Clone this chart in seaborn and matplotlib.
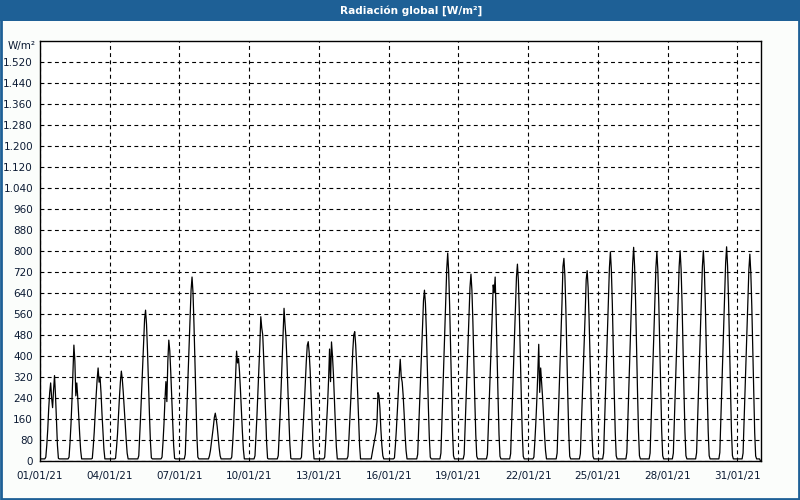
import numpy as np
import pandas as pd
import matplotlib
matplotlib.use("Agg")
import matplotlib.pyplot as plt
import matplotlib.dates as mdates
from matplotlib.ticker import FuncFormatter, FixedLocator
from matplotlib.patches import Rectangle
import seaborn as sns

# ---------------- data (W/m², hourly values for hours 06..19 of each day) -------------
night_value = 8
day_hours = list(range(6, 20))

d01 = [15, 60, 120, 200, 260, 297, 240, 203, 270, 325, 250, 150, 60, 10]
d02 = [15, 70, 140, 230, 339, 441, 380, 248, 297, 240, 170, 100, 40, 8]
d03 = [10, 55, 110, 180, 250, 310, 354, 300, 320, 260, 180, 110, 45, 8]
d04 = [10, 50, 100, 170, 240, 300, 342, 310, 260, 200, 140, 80, 30, 8]
d05 = [20, 100, 180, 270, 360, 450, 540, 574, 520, 420, 300, 180, 75, 12]
d06 = [15, 70, 140, 230, 302, 226, 380, 460, 420, 340, 240, 150, 60, 10]
d07 = [25, 130, 230, 330, 440, 550, 650, 700, 640, 520, 380, 230, 95, 15]
d08 = [8, 20, 40, 70, 100, 130, 165, 182, 160, 130, 90, 50, 20, 8]
d09 = [15, 70, 140, 230, 320, 418, 373, 390, 340, 270, 190, 110, 45, 8]
d10 = [20, 95, 170, 260, 350, 440, 549, 506, 480, 390, 280, 170, 70, 10]
d11 = [20, 100, 180, 280, 380, 480, 581, 521, 470, 380, 270, 160, 65, 10]
d12 = [15, 80, 150, 220, 300, 380, 440, 454, 410, 340, 240, 140, 55, 8]
d13 = [15, 75, 145, 220, 310, 426, 302, 453, 400, 330, 230, 140, 55, 8]
d14 = [18, 85, 160, 240, 330, 420, 480, 492, 440, 360, 260, 150, 60, 8]
d15 = [8, 30, 50, 70, 90, 110, 150, 260, 250, 200, 120, 60, 20, 8]
d16 = [12, 60, 120, 190, 260, 330, 387, 321, 300, 250, 180, 100, 40, 8]
d17 = [25, 120, 210, 310, 410, 510, 610, 650, 600, 490, 350, 210, 90, 15]
d18 = [30, 145, 255, 375, 495, 615, 730, 791, 720, 590, 425, 255, 110, 20]
d19 = [25, 130, 230, 340, 450, 560, 660, 711, 650, 530, 380, 230, 100, 18]
d20 = [25, 130, 230, 340, 450, 560, 670, 640, 700, 560, 400, 240, 100, 18]
d21 = [28, 140, 245, 355, 470, 580, 700, 749, 685, 560, 400, 245, 105, 18]
d22 = [15, 75, 145, 230, 330, 444, 261, 354, 300, 240, 170, 100, 40, 8]
d23 = [30, 145, 250, 365, 480, 600, 740, 771, 705, 580, 415, 250, 105, 18]
d24 = [28, 135, 235, 345, 455, 565, 690, 724, 660, 540, 390, 235, 100, 18]
d25 = [30, 150, 260, 378, 498, 617, 736, 796, 726, 597, 428, 258, 110, 20]
d26 = [32, 153, 265, 386, 508, 630, 752, 813, 740, 610, 437, 264, 113, 20]
d27 = [30, 150, 258, 378, 497, 616, 737, 796, 725, 598, 430, 259, 111, 20]
d28 = [30, 150, 260, 380, 500, 620, 740, 800, 730, 600, 430, 260, 110, 20]
d29 = [31, 151, 261, 381, 501, 619, 741, 800, 731, 601, 431, 261, 111, 20]
d30 = [32, 153, 265, 387, 509, 632, 754, 815, 742, 612, 440, 265, 114, 21]
d31 = [30, 148, 256, 374, 492, 610, 728, 787, 716, 590, 425, 256, 108, 19]

days = [d01, d02, d03, d04, d05, d06, d07, d08, d09, d10, d11, d12, d13, d14, d15, d16,
        d17, d18, d19, d20, d21, d22, d23, d24, d25, d26, d27, d28, d29, d30, d31]

y_ticks = list(range(0, 1521, 80))
x_tick_days = ["2021-01-01", "2021-01-04", "2021-01-07", "2021-01-10", "2021-01-13",
               "2021-01-16", "2021-01-19", "2021-01-22", "2021-01-25", "2021-01-28",
               "2021-01-31"]
title_text = "Radiación global [W/m²]"
unit_text = "W/m²"

# ---------------- build series ----------------
times, values = [], []
start = pd.Timestamp("2021-01-01 00:00")
for i, dvals in enumerate(days):
    for h in range(24):
        times.append(start + pd.Timedelta(days=i, hours=h))
        if h in day_hours:
            values.append(dvals[day_hours.index(h)])
        else:
            values.append(night_value)
times.append(pd.Timestamp("2021-02-01 00:00"))
values.append(0)
df = pd.DataFrame({"time": times, "value": values})

# ---------------- figure ----------------
sns.set_style("white")
plt.rcParams["font.family"] = ["DejaVu Sans"]

text_color = "#0b1a33"
fig = plt.figure(figsize=(8, 5), dpi=100, facecolor="#fbfdfb")
ax = fig.add_axes([40 / 800, 39 / 500, 720.5 / 800, 420.5 / 500])
ax.set_facecolor("white")

sns.lineplot(data=df, x="time", y="value", color="black", linewidth=0.9, ax=ax)

ax.set_xlim(pd.Timestamp("2021-01-01"), pd.Timestamp("2021-02-01"))
ax.set_ylim(0, 1600)
ax.set_yticks(y_ticks)
ax.yaxis.set_major_formatter(FuncFormatter(lambda v, p: f"{int(v):,}".replace(",", ".")))

ax.xaxis.set_major_locator(FixedLocator(mdates.date2num(pd.to_datetime(x_tick_days))))
ax.xaxis.set_minor_locator(mdates.DayLocator())
ax.xaxis.set_major_formatter(mdates.DateFormatter("%d/%m/%y"))

ax.set_xlabel("")
ax.set_ylabel("")
ax.grid(True, which="major", color="black", linestyle=(0, (3.5, 3)), linewidth=0.8)
for s in ax.spines.values():
    s.set_visible(True)
    s.set_color("black")
    s.set_linewidth(1.0)

ax.tick_params(axis="both", which="major", direction="out", width=1,
               color="black", labelcolor=text_color, labelsize=7.5)
ax.tick_params(axis="x", which="minor", direction="out", length=3, width=1, color="black")
ax.tick_params(axis="x", which="major", length=4, pad=3)
ax.tick_params(axis="y", which="major", length=3, pad=2)

# title bar
fig.patches.append(Rectangle((0, 1 - 20.7 / 500), 1, 20.7 / 500, transform=fig.transFigure,
                             facecolor="#1e6096", edgecolor="none", zorder=0))
fig.text(411 / 800, 1 - 10.5 / 500, title_text, ha="center", va="center", color="white",
         fontsize=7.6, fontweight="bold")
# outer border
fig.patches.append(Rectangle((0.001, 0.002), 0.998, 0.996, transform=fig.transFigure,
                             facecolor="none", edgecolor="#1e6096", linewidth=2, zorder=5))
fig.text(22 / 800, 1 - 46 / 500, unit_text, ha="center", va="center", color=text_color,
         fontsize=7.5)

fig.savefig("out.png", dpi=100, facecolor=fig.get_facecolor())
